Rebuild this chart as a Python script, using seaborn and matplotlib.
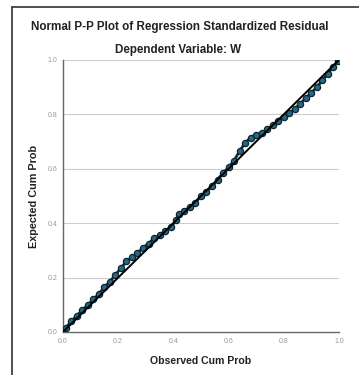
import matplotlib
matplotlib.use("Agg")
import matplotlib.pyplot as plt
import seaborn as sns
import pandas as pd

title = "Normal P-P Plot of Regression Standardized Residual"
subtitle = "Dependent Variable: W"
x_label = "Observed Cum Prob"
y_label = "Expected Cum Prob"
ticks = [0.0, 0.2, 0.4, 0.6, 0.8, 1.0]
tick_labels = ["0.0", "0.2", "0.4", "0.6", "0.8", "1.0"]

observed = [0.01, 0.03, 0.05, 0.07, 0.09, 0.11, 0.13, 0.15, 0.17, 0.19,
            0.21, 0.23, 0.25, 0.27, 0.29, 0.31, 0.33, 0.35, 0.37, 0.39,
            0.41, 0.42, 0.44, 0.46, 0.48, 0.50, 0.52, 0.54, 0.56, 0.58,
            0.60, 0.62, 0.64, 0.66, 0.68, 0.70, 0.72, 0.74, 0.76, 0.78,
            0.80, 0.82, 0.84, 0.86, 0.88, 0.90, 0.92, 0.94, 0.96, 0.98, 0.995]
expected = [0.015, 0.04, 0.06, 0.08, 0.10, 0.12, 0.14, 0.165, 0.185, 0.21,
            0.235, 0.26, 0.275, 0.29, 0.31, 0.325, 0.345, 0.355, 0.37, 0.385,
            0.41, 0.435, 0.445, 0.46, 0.475, 0.50, 0.515, 0.535, 0.56, 0.585,
            0.605, 0.63, 0.665, 0.695, 0.715, 0.725, 0.73, 0.745, 0.76, 0.775,
            0.79, 0.805, 0.82, 0.84, 0.86, 0.88, 0.90, 0.925, 0.95, 0.975, 0.995]

df = pd.DataFrame({"observed": observed, "expected": expected})

sns.set_style("white")
plt.rcParams["font.family"] = ["Liberation Sans", "DejaVu Sans"]

fig = plt.figure(figsize=(3.59, 3.75), dpi=100)
ax = fig.add_axes([0.1755, 0.1147, 0.7685, 0.7253])

# outer frame (top and left only visible)
fig.add_artist(plt.Line2D([0.034, 0.034], [0, 0.981], color="#333333", lw=1.2,
                          transform=fig.transFigure))
fig.add_artist(plt.Line2D([0.034, 1.0], [0.981, 0.981], color="#333333", lw=1.2,
                          transform=fig.transFigure))

for t in ticks[1:]:
    ax.axhline(t, color="#cccccc", lw=0.8, zorder=1)

ax.plot(observed, expected, color="#0d2c3a", lw=2.0, zorder=2)
sns.scatterplot(data=df, x="observed", y="expected", ax=ax, s=20,
                color="#2a6684", edgecolor="#0b2530", linewidth=0.9, zorder=3)
ax.plot([0, 1], [0, 1], color="black", lw=1.4, zorder=4)

ax.set_xlim(0, 1)
ax.set_ylim(0, 1)
ax.set_xticks(ticks)
ax.set_yticks(ticks)
ax.set_xticklabels(tick_labels, fontsize=5, color="#999999")
ax.set_yticklabels(tick_labels, fontsize=5, color="#999999")
ax.tick_params(length=2, color="#999999", pad=2)
ax.set_xlabel(x_label, fontsize=7.6, fontweight="bold", color="#222222", labelpad=8)
ax.set_ylabel(y_label, fontsize=7.8, fontweight="bold", color="#222222", labelpad=6)
for side in ["top", "right"]:
    ax.spines[side].set_visible(False)
for side in ["left", "bottom"]:
    ax.spines[side].set_color("#666666")
    ax.spines[side].set_linewidth(1.0)

fig.text(0.5, 0.928, title, fontsize=8.4, fontweight="bold", color="#222222",
         ha="center", va="center")
fig.text(0.497, 0.867, subtitle, fontsize=8.4, fontweight="bold", color="#222222",
         ha="center", va="center")

fig.savefig("out.png", dpi=100)
